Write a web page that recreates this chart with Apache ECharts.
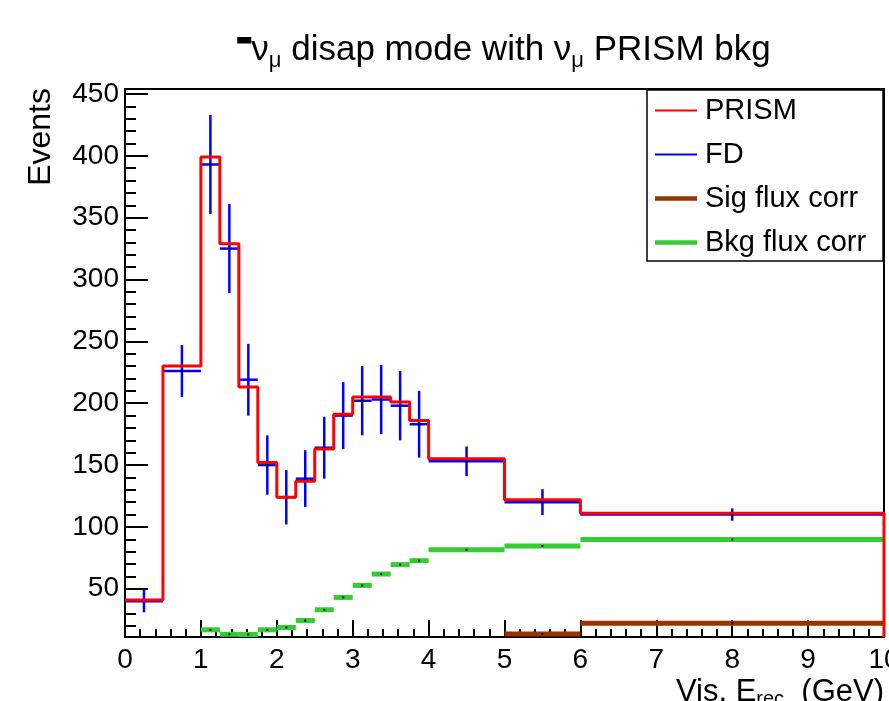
<!DOCTYPE html>
<html>
<head>
<meta charset="utf-8">
<script src="https://cdn.jsdelivr.net/npm/echarts@6/dist/echarts.min.js"></script>
<style>
  html, body { margin: 0; padding: 0; background: #fff; }
  #chart { width: 889px; height: 701px; }
</style>
</head>
<body>
<div id="chart"></div>
<script>
// bin edges (GeV) and per-bin contents
const binEdges = [0, 0.5, 1.0, 1.25, 1.5, 1.75, 2.0, 2.25, 2.5, 2.75, 3.0, 3.25, 3.5, 3.75, 4.0, 5.0, 6.0, 10.0]
const prism = [41, 230, 399, 329, 213, 152, 124, 137, 163, 191, 205, 205, 201, 186, 155, 122, 111]
const fd = [40, 226, 393, 325, 219, 150, 124, 139, 164, 190, 202, 203, 198, 183, 153, 120, 110]
const fdErr = [9, 21, 40, 36, 29, 24, 22, 23, 25, 27, 28, 28, 28, 27, 12, 10.5, 5]
const sigFluxCorr = [null, null, null, null, null, null, null, null, null, null, null, null, null, null, null, 13.5, 22.1]
const bkgFluxCorr = [null, null, 16.8, 13.2, 13, 16.8, 18.7, 24.3, 33, 43, 52.7, 61.9, 69.5, 72.7, 81.5, 84.6, 89.8]

const yMin = 11
const yMax = 454
const yMajorTicks = [50, 100, 150, 200, 250, 300, 350, 400, 450]
const yMinorTicks = []
for (let v = 20; v <= 450; v += 10) {
  if (v % 50 !== 0) yMinorTicks.push(v)
}

const FONT = 'Liberation Sans, Arial, Helvetica, sans-serif'

// step histogram points: left edge of each bin, then drop at the last edge
const prismSteps = prism.map((v, i) => [binEdges[i], v])
prismSteps.push([binEdges[binEdges.length - 1], yMin])

const binRows = (vals, errs) =>
  vals.map((v, i) => [binEdges[i], binEdges[i + 1], v, errs ? errs[i] : 0]).filter(r => r[2] != null)

function renderFd(params, api) {
  const lo = api.value(0), hi = api.value(1), v = api.value(2), e = api.value(3)
  const mid = (lo + hi) / 2
  const a = api.coord([lo, v]), b = api.coord([hi, v])
  const t = api.coord([mid, v + e]), d = api.coord([mid, v - e])
  const c = api.coord([mid, v])
  const st = { stroke: '#0000ff', lineWidth: 2.5 }
  return {
    type: 'group',
    children: [
      { type: 'line', shape: { x1: a[0], y1: a[1], x2: b[0], y2: b[1] }, style: st },
      { type: 'line', shape: { x1: t[0], y1: t[1], x2: d[0], y2: d[1] }, style: st },
      { type: 'rect', shape: { x: c[0] - 1, y: c[1] - 1, width: 2, height: 2 }, style: { fill: '#000' } }
    ]
  }
}

function barRenderer(color) {
  return function (params, api) {
    const lo = api.value(0), hi = api.value(1), v = api.value(2)
    const a = api.coord([lo, v]), b = api.coord([hi, v])
    const c = api.coord([(lo + hi) / 2, v])
    return {
      type: 'group',
      children: [
        { type: 'line', shape: { x1: a[0], y1: a[1], x2: b[0], y2: b[1] }, style: { stroke: color, lineWidth: 5 } },
        { type: 'rect', shape: { x: c[0] - 1, y: c[1] - 1, width: 2, height: 2 }, style: { fill: '#000' } }
      ]
    }
  }
}

// thick bar drawn in the lower part of a small rich-text box (the "anti" bar over nu)
const barFill = {
  type: 'linear', x: 0, y: 0, x2: 0, y2: 1,
  colorStops: [
    { offset: 0, color: 'rgba(0,0,0,0)' },
    { offset: 0.45, color: 'rgba(0,0,0,0)' },
    { offset: 0.45, color: '#000' },
    { offset: 1, color: '#000' }
  ]
}

const chart = echarts.init(document.getElementById('chart'))

const option = {
  animation: false,
  backgroundColor: '#fff',
  textStyle: { fontFamily: FONT },
  grid: {
    left: 125, right: 5, top: 89, bottom: 64,
    outerBoundsMode: 'none',
    show: true, borderColor: '#000', borderWidth: 2, backgroundColor: 'transparent'
  },
  xAxis: {
    type: 'value', min: 0, max: 10, interval: 1,
    axisLine: { show: true, lineStyle: { color: '#000', width: 2 } },
    axisTick: { show: true, inside: true, length: 17, lineStyle: { color: '#000', width: 2 } },
    minorTick: { show: true, splitNumber: 5, length: 8, lineStyle: { color: '#000', width: 2 } },
    axisLabel: { color: '#000', fontSize: 28, fontFamily: FONT, margin: 9, showMaxLabel: true, showMinLabel: true, hideOverlap: false },
    splitLine: { show: false }
  },
  yAxis: [
    {
      type: 'value', min: yMin, max: yMax,
      axisLine: { show: true, lineStyle: { color: '#000', width: 2 } },
      axisTick: { show: true, inside: true, length: 23, customValues: yMajorTicks, lineStyle: { color: '#000', width: 2 } },
      axisLabel: { color: '#000', fontSize: 28, fontFamily: FONT, margin: 6, customValues: yMajorTicks },
      splitLine: { show: false }
    },
    {
      type: 'value', min: yMin, max: yMax, position: 'left', offset: 0,
      axisLine: { show: false },
      axisTick: { show: true, inside: true, length: 11, customValues: yMinorTicks, lineStyle: { color: '#000', width: 2 } },
      axisLabel: { show: false },
      splitLine: { show: false }
    }
  ],
  legend: {
    orient: 'vertical',
    left: 655, top: 96,
    padding: 0,
    itemWidth: 42, itemHeight: 28, itemGap: 15,
    textStyle: { fontSize: 29, fontFamily: FONT, color: '#000', padding: [0, 0, 0, 3] },
    data: [
      { name: 'PRISM', icon: 'path://M0,0H42V2H0Z', itemStyle: { color: '#ff0000' } },
      { name: 'FD', icon: 'path://M0,0H42V2H0Z', itemStyle: { color: '#0000ff' } },
      { name: 'Sig flux corr', icon: 'path://M0,0H42V4.5H0Z', itemStyle: { color: '#993300' } },
      { name: 'Bkg flux corr', icon: 'path://M0,0H42V4.5H0Z', itemStyle: { color: '#33cc33' } }
    ]
  },
  graphic: [
    {
      type: 'rect', silent: true, z: 10,
      shape: { x: 647, y: 90, width: 236, height: 171 },
      style: { fill: 'none', stroke: '#000', lineWidth: 1.5 }
    },
    {
      type: 'text', x: 504, y: 50, z: 10,
      style: {
        text: '{bar| }{n|ν}{s|μ} disap mode with ν{s|μ} PRISM bkg',
        fontSize: 35, fontFamily: FONT, fill: '#000',
        align: 'center', verticalAlign: 'middle',
        rich: {
          bar: { width: 14, height: 11, fontSize: 4, backgroundColor: barFill, verticalAlign: 'top' },
          n: { fontSize: 35, fontFamily: FONT },
          s: { fontSize: 22, fontFamily: FONT, lineHeight: 20, padding: [22, 0, 0, 0] }
        }
      }
    },
    {
      type: 'text', x: 41, y: 88, rotation: Math.PI / 2, z: 10,
      style: { text: 'Events', fontSize: 32, fontFamily: FONT, fill: '#000', align: 'right', verticalAlign: 'middle' }
    },
    {
      type: 'text', x: 884, y: 692, z: 10,
      style: {
        text: 'Vis. E{s|rec}  (GeV)',
        fontSize: 31, fontFamily: FONT, fill: '#000',
        align: 'right', verticalAlign: 'middle',
        rich: { s: { fontSize: 20, fontFamily: FONT, padding: [14, 0, 0, 0] } }
      }
    }
  ],
  series: [
    {
      name: 'Bkg flux corr', type: 'custom', z: 3, clip: true,
      itemStyle: { color: '#33cc33' },
      renderItem: barRenderer('#33cc33'),
      encode: { x: [0, 1], y: 2 },
      data: binRows(bkgFluxCorr)
    },
    {
      name: 'Sig flux corr', type: 'custom', z: 3, clip: true,
      itemStyle: { color: '#993300' },
      renderItem: barRenderer('#993300'),
      encode: { x: [0, 1], y: 2 },
      data: binRows(sigFluxCorr)
    },
    {
      name: 'FD', type: 'custom', z: 4, clip: true,
      itemStyle: { color: '#0000ff' },
      renderItem: renderFd,
      encode: { x: [0, 1], y: 2 },
      data: binRows(fd, fdErr)
    },
    {
      name: 'PRISM', type: 'line', z: 5, step: 'end',
      symbol: 'none', showSymbol: false, clip: true,
      itemStyle: { color: '#ff0000' },
      lineStyle: { color: '#ff0000', width: 3 },
      data: prismSteps
    }
  ]
}

chart.setOption(option)
</script>
</body>
</html>
